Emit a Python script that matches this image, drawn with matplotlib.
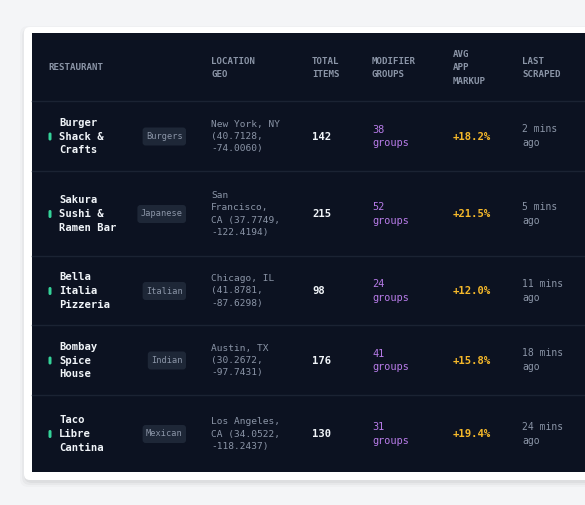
import matplotlib
matplotlib.use("Agg")
import matplotlib.pyplot as plt
from matplotlib.patches import FancyBboxPatch, Rectangle

names = ["Burger\nShack &\nCrafts", "Sakura\nSushi &\nRamen Bar", "Bella\nItalia\nPizzeria", "Bombay\nSpice\nHouse", "Taco\nLibre\nCantina"]
cuisines = ["Burgers", "Japanese", "Italian", "Indian", "Mexican"]
locations = ["New York, NY\n(40.7128,\n-74.0060)", "San\nFrancisco,\nCA (37.7749,\n-122.4194)", "Chicago, IL\n(41.8781,\n-87.6298)", "Austin, TX\n(30.2672,\n-97.7431)", "Los Angeles,\nCA (34.0522,\n-118.2437)"]
total_items = [142, 215, 98, 176, 130]
modifier_groups = [38, 52, 24, 41, 31]
markups = [18.2, 21.5, 12.0, 15.8, 19.4]
last_scraped = [2, 5, 11, 18, 24]
headers = ["RESTAURANT", "LOCATION\nGEO", "TOTAL\nITEMS", "MODIFIER\nGROUPS", "AVG\nAPP\nMARKUP", "LAST\nSCRAPED"]
header_x = [48, 211, 312, 372, 453, 522]

W, H = 585, 505
fig = plt.figure(figsize=(W/100, H/100), dpi=100)
fig.patch.set_facecolor("#f4f5f7")
ax = fig.add_axes([0, 0, 1, 1])
ax.set_xlim(0, W); ax.set_ylim(H, 0); ax.axis("off")

for i, a in enumerate([0.04, 0.03, 0.02]):
    ax.add_patch(FancyBboxPatch((24 - 2*i, 27 - 2*i + 3), 600, 453 + 4*i, boxstyle="round,pad=0,rounding_size=8",
                                fc="#000000", ec="none", alpha=a))
ax.add_patch(FancyBboxPatch((24, 27), 600, 453, boxstyle="round,pad=0,rounding_size=6", fc="white", ec="none"))
ax.add_patch(Rectangle((32, 33), 560, 439, fc="#0c1221", ec="none"))

mono = "DejaVu Sans Mono"
for hx, h in zip(header_x, headers):
    ax.text(hx, 68, h, color="#8b95a7", fontsize=6.6, fontweight="bold", family=mono,
            va="center", ha="left", linespacing=1.6)

seps = [101, 171, 256, 325, 395]
for s in seps:
    ax.plot([32, 585], [s, s], color="#1b2333", lw=1)
bottoms = seps[1:] + [472]
for i in range(len(names)):
    yc = (seps[i] + bottoms[i]) / 2 + 0.5
    ax.add_patch(FancyBboxPatch((48.5, yc - 4), 3, 8, boxstyle="round,pad=0,rounding_size=1.5", fc="#34d399", ec="none"))
    ax.text(59, yc, names[i], color="#f1f5f9", fontsize=7.6, fontweight="bold", family=mono,
            va="center", ha="left", linespacing=1.45)
    bw = 7 + 5.2 * len(cuisines[i])
    ax.add_patch(FancyBboxPatch((186 - bw, yc - 9), bw, 18, boxstyle="round,pad=0,rounding_size=3", fc="#1e2737", ec="none"))
    ax.text(186 - bw/2, yc, cuisines[i], color="#8b95a7", fontsize=6.2, family=mono, va="center", ha="center")
    ax.text(211, yc, locations[i], color="#8b95a7", fontsize=6.8, family=mono, va="center", ha="left", linespacing=1.5)
    ax.text(312, yc, str(total_items[i]), color="#f1f5f9", fontsize=7.6, fontweight="bold", family=mono, va="center")
    ax.text(372, yc, f"{modifier_groups[i]}\ngroups", color="#b77be8", fontsize=7.4, family=mono, va="center", linespacing=1.45)
    ax.text(453, yc, f"+{markups[i]:.1f}%", color="#f5b82a", fontsize=7.6, fontweight="bold", family=mono, va="center")
    ax.text(522, yc, f"{last_scraped[i]} mins\nago", color="#8b95a7", fontsize=7.0, family=mono, va="center", linespacing=1.5)

fig.savefig("out.png", dpi=100, facecolor=fig.get_facecolor())
